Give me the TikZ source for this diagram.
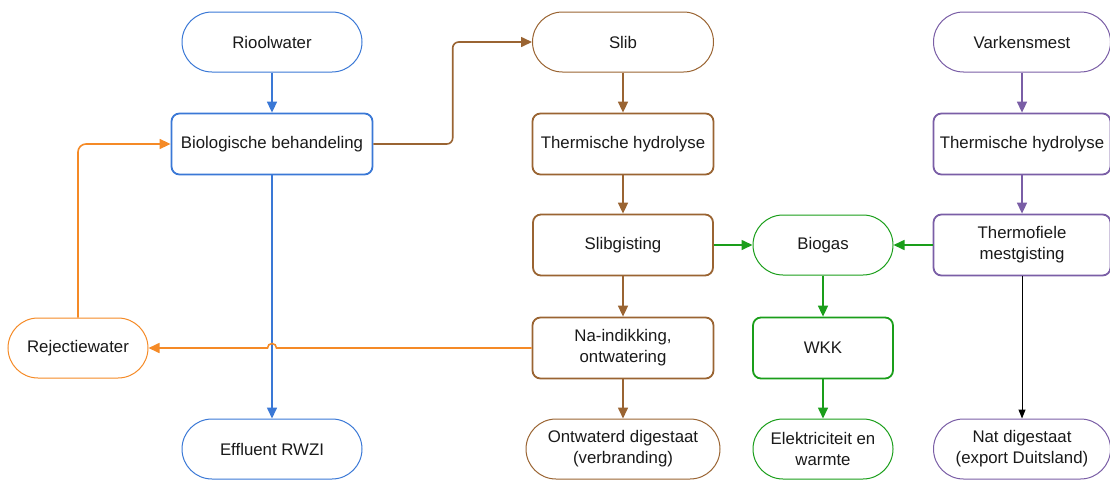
\documentclass[tikz,border=0pt]{standalone}
\usepackage{fontspec}
\setmainfont{Liberation Sans}
\usetikzlibrary{arrows.meta,calc}

\definecolor{cblue}{HTML}{3A78D6}
\definecolor{cbrown}{HTML}{9A6432}
\definecolor{corange}{HTML}{F58A26}
\definecolor{cgreen}{HTML}{1A9E1A}
\definecolor{cpurple}{HTML}{7A5EA6}
\definecolor{ctext}{HTML}{1A1A1A}

\begin{document}
\begin{tikzpicture}[x=1pt,y=-1pt,
  font=\fontsize{16.8}{21}\selectfont,
  box/.style={draw=#1, rounded corners=8pt, line width=1.8pt, fill=white,
    text=ctext, minimum height=61pt, inner sep=0pt, align=center},
  term/.style={draw=#1, rounded corners=30pt, line width=1pt, fill=white,
    text=ctext, minimum height=60pt, inner sep=0pt, align=center},
  flow/.style={draw=#1, line width=1.6pt, -{Triangle[length=11pt,width=10pt,fill=#1]}},
]
\useasboundingbox (0,0) rectangle (1110,479);

% sewage line
\node[term=cblue, minimum width=180pt] (riool) at (272,42) {Rioolwater};
\node[box=cblue, minimum width=201pt] (bio) at (272,144) {Biologische behandeling};
\node[term=cblue, minimum width=180pt] (eff) at (272,449) {Effluent RWZI};
\node[term=corange, minimum width=140pt] (rej) at (78,348) {Rejectiewater};

% sludge line
\node[term=cbrown, minimum width=181pt] (slib) at (623,42) {Slib};
\node[box=cbrown, minimum width=181pt] (th1) at (623,144) {Thermische hydrolyse};
\node[box=cbrown, minimum width=180pt] (sg) at (623,245) {Slibgisting};
\node[box=cbrown, minimum width=181pt] (na) at (623,348) {Na-indikking,\\ontwatering};
\node[term=cbrown, minimum width=194pt] (ontw) at (623,449) {Ontwaterd digestaat\\(verbranding)};

% biogas line
\node[term=cgreen, minimum width=140pt] (biogas) at (823,245) {Biogas};
\node[box=cgreen, minimum width=140pt] (wkk) at (823,348) {WKK};
\node[term=cgreen, minimum width=140pt] (elek) at (823,449) {Elektriciteit en\\warmte};

% manure line
\node[term=cpurple, minimum width=177pt] (varken) at (1022,42) {Varkensmest};
\node[box=cpurple, minimum width=177pt] (th2) at (1022,144) {Thermische hydrolyse};
\node[box=cpurple, minimum width=177pt] (tm) at (1022,245) {Thermofiele\\mestgisting};
\node[term=cpurple, minimum width=177pt] (nat) at (1022,449) {Nat digestaat\\(export Duitsland)};

% connectors
\draw[flow=cblue] (riool) -- (bio);
\draw[flow=cblue] (bio) -- (eff);
\draw[flow=cbrown, rounded corners=6pt]
  (bio.east) -| ($(bio.east)!.5!(slib.west)$) |- (slib.west);
\draw[flow=cbrown] (slib) -- (th1);
\draw[flow=cbrown] (th1) -- (sg);
\draw[flow=cbrown] (sg) -- (na);
\draw[flow=cbrown] (na) -- (ontw);
\draw[flow=corange]
  (na.west) -- ($(bio.south |- na.west)+(4.5,0)$)
  arc[start angle=0, end angle=-180, radius=4.5] -- (rej.east);
\draw[flow=corange, rounded corners=8pt] (rej.north) |- (bio.west);
\draw[flow=cgreen] (sg) -- (biogas);
\draw[flow=cgreen] (tm) -- (biogas);
\draw[flow=cgreen] (biogas) -- (wkk);
\draw[flow=cgreen] (wkk) -- (elek);
\draw[flow=cpurple] (varken) -- (th2);
\draw[flow=cpurple] (th2) -- (tm);
\draw[draw=black, line width=1pt, -{Triangle[length=9pt,width=7pt]}] (tm) -- (nat);
\end{tikzpicture}
\end{document}
